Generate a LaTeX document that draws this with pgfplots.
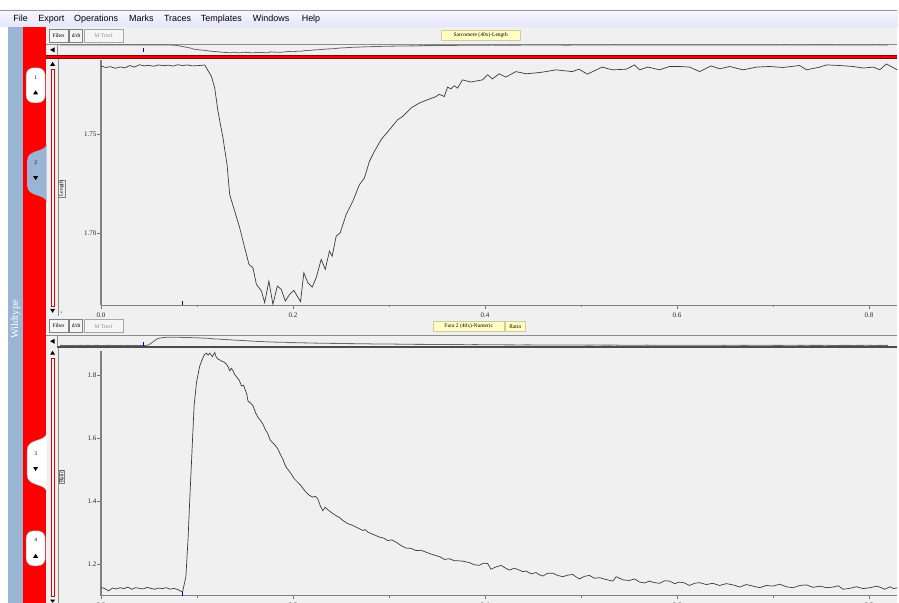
\documentclass[border=0pt]{standalone}
\usepackage{pgfplots}
\pgfplotsset{compat=1.18}
\usepackage{pgfplotstable}
\usepackage{fontspec}
\setmainfont{Liberation Serif}
\newfontfamily\uisans{Liberation Sans}

\definecolor{panel}{HTML}{F0F0F0}
\definecolor{uiblue}{HTML}{9AB4D3}
\definecolor{uired}{HTML}{FF0000}
\definecolor{trace}{HTML}{3A3A3A}
\definecolor{tag}{HTML}{FFFFC4}

\newcommand{\tickfont}{\fontsize{7}{8}\selectfont}
\newcommand{\tinyfont}{\fontsize{5.5}{6}\selectfont}
\newcommand{\menufont}{\uisans\fontsize{9}{10}\selectfont}
% small arrow glyphs of the window chrome (flipped coordinates: y grows downwards)
\newcommand{\tup}[2]{\fill[black] (#1-2.5,#2+2) -- (#1+2.5,#2+2) -- (#1,#2-2) -- cycle;}
\newcommand{\tdown}[2]{\fill[black] (#1-2.5,#2-2) -- (#1+2.5,#2-2) -- (#1,#2+2) -- cycle;}

% sarcomere length, um
\pgfplotstableread{
t L
0.000 1.7850
0.005 1.7842
0.010 1.7846
0.015 1.7838
0.020 1.7845
0.025 1.7840
0.030 1.7852
0.035 1.7844
0.040 1.7856
0.045 1.7850
0.050 1.7853
0.055 1.7848
0.060 1.7855
0.065 1.7851
0.070 1.7854
0.075 1.7849
0.080 1.7856
0.085 1.7852
0.090 1.7855
0.095 1.7850
0.100 1.7851
0.105 1.7853
0.1080 1.7855
0.1151 1.7796
0.1185 1.7737
0.1219 1.7618
0.1271 1.7483
0.1313 1.7348
0.1341 1.7195
0.1393 1.7111
0.1445 1.7026
0.1497 1.6925
0.1542 1.6840
0.1583 1.6823
0.1619 1.6739
0.1671 1.6705
0.1705 1.6646
0.1749 1.6755
0.1791 1.6637
0.1837 1.6730
0.1878 1.6713
0.1920 1.6654
0.1965 1.6688
0.2009 1.6708
0.2079 1.6651
0.2113 1.6798
0.2155 1.6747
0.2201 1.6725
0.2242 1.6773
0.2294 1.6866
0.2336 1.6815
0.2380 1.6908
0.2408 1.6882
0.2450 1.6984
0.2492 1.7001
0.2554 1.7094
0.2623 1.7161
0.2692 1.7246
0.2744 1.7280
0.2796 1.7364
0.2848 1.7415
0.2918 1.7475
0.3004 1.7525
0.3090 1.7576
0.3142 1.7593
0.3230 1.7636
0.3316 1.7661
0.3402 1.7678
0.3490 1.7694
0.3524 1.7706
0.3576 1.7694
0.3610 1.7742
0.3646 1.7733
0.3680 1.7749
0.3714 1.7737
0.3766 1.7779
0.3853 1.7768
0.3974 1.7779
0.4026 1.7805
0.4078 1.7784
0.4148 1.7810
0.4217 1.7793
0.4321 1.7821
0.4428 1.7810
0.4563 1.7816
0.4636 1.7821
0.4740 1.7830
0.4910 1.7821
0.4979 1.7833
0.5066 1.7808
0.5221 1.7844
0.5325 1.7830
0.5471 1.7833
0.5558 1.7855
0.5610 1.7830
0.5696 1.7844
0.5818 1.7830
0.5922 1.7847
0.6026 1.7847
0.6130 1.7844
0.6237 1.7821
0.6355 1.7850
0.6445 1.7835
0.6549 1.7847
0.6687 1.7830
0.6830 1.7844
0.6965 1.7847
0.7105 1.7842
0.7277 1.7852
0.7349 1.7830
0.7488 1.7844
0.7557 1.7855
0.7695 1.7852
0.7835 1.7847
0.7939 1.7839
0.8046 1.7844
0.8113 1.7830
0.8181 1.7860
0.8295 1.7830
}\lengthtab

% Fura-2 ratio
\pgfplotstableread{
t R
0.000 1.125
0.004 1.121
0.008 1.114
0.012 1.123
0.016 1.120
0.020 1.124
0.024 1.121
0.028 1.126
0.032 1.119
0.036 1.124
0.040 1.122
0.044 1.120
0.048 1.125
0.052 1.122
0.056 1.119
0.060 1.123
0.064 1.121
0.068 1.124
0.072 1.119
0.076 1.122
0.080 1.118
0.0849 1.110
0.0884 1.158
0.0907 1.279
0.0925 1.406
0.0949 1.565
0.0970 1.703
0.0995 1.777
0.1029 1.830
0.1063 1.856
0.1080 1.866
0.1099 1.870
0.1115 1.864
0.1133 1.870
0.1161 1.859
0.1185 1.872
0.1200 1.858
0.1219 1.851
0.1236 1.849
0.1254 1.845
0.1280 1.842
0.1307 1.835
0.1325 1.826
0.1341 1.814
0.1358 1.822
0.1375 1.814
0.1395 1.801
0.1417 1.793
0.1440 1.784
0.1463 1.766
0.1485 1.768
0.1507 1.750
0.1520 1.738
0.1531 1.718
0.1557 1.712
0.1583 1.703
0.1610 1.681
0.1635 1.666
0.1660 1.657
0.1687 1.644
0.1712 1.627
0.1739 1.613
0.1762 1.594
0.1785 1.586
0.1815 1.577
0.1843 1.565
0.1870 1.547
0.1895 1.533
0.1912 1.518
0.1930 1.507
0.1955 1.497
0.1982 1.486
0.2015 1.470
0.2051 1.459
0.2085 1.448
0.2121 1.433
0.2165 1.419
0.2207 1.412
0.2235 1.415
0.2259 1.406
0.2285 1.384
0.2311 1.369
0.2335 1.380
0.2363 1.372
0.2405 1.362
0.2450 1.353
0.2485 1.347
0.2519 1.338
0.2570 1.328
0.2623 1.322
0.2675 1.314
0.2727 1.306
0.2750 1.309
0.2779 1.301
0.2840 1.293
0.2900 1.285
0.2943 1.282
0.2986 1.274
0.3030 1.276
0.3074 1.269
0.3126 1.258
0.3178 1.250
0.3230 1.249
0.3282 1.242
0.3335 1.243
0.3386 1.237
0.3438 1.231
0.3490 1.226
0.3533 1.222
0.3576 1.214
0.3628 1.216
0.3680 1.210
0.3758 1.209
0.3836 1.204
0.3888 1.197
0.3940 1.195
0.3985 1.202
0.4028 1.201
0.4062 1.183
0.4115 1.190
0.4167 1.195
0.4210 1.187
0.4254 1.180
0.4306 1.186
0.4359 1.180
0.4393 1.175
0.4428 1.177
0.4480 1.168
0.4532 1.172
0.4567 1.165
0.4602 1.161
0.4654 1.170
0.4706 1.170
0.4758 1.163
0.4810 1.159
0.4862 1.164
0.4915 1.166
0.4950 1.158
0.4984 1.152
0.5036 1.160
0.5088 1.163
0.5140 1.154
0.5192 1.156
0.5262 1.150
0.5332 1.145
0.5367 1.159
0.5436 1.149
0.5505 1.147
0.5558 1.152
0.5610 1.142
0.5662 1.139
0.5714 1.145
0.5766 1.140
0.5818 1.138
0.5870 1.146
0.5923 1.145
0.5975 1.137
0.6027 1.142
0.6079 1.139
0.6131 1.131
0.6183 1.138
0.6236 1.140
0.6305 1.134
0.6374 1.138
0.6444 1.131
0.6514 1.137
0.6583 1.133
0.6653 1.126
0.6722 1.134
0.6792 1.129
0.6861 1.124
0.6930 1.131
0.7000 1.129
0.7070 1.135
0.7140 1.127
0.7209 1.124
0.7278 1.131
0.7348 1.133
0.7418 1.125
0.7488 1.129
0.7557 1.124
0.7626 1.126
0.7680 1.130
0.7731 1.119
0.7800 1.122
0.7869 1.127
0.7940 1.121
0.8008 1.124
0.8087 1.129
0.8165 1.119
0.8217 1.127
0.8260 1.121
0.8295 1.124
}\ratiotab

\pgfplotsset{
  trace axis/.style={
    scale only axis, anchor=south west, width=798pt,
    xmin=0, xmax=0.82952,
    axis x line=bottom, axis y line=left,
    axis line style={-, draw=black!50, line width=1.3pt},
    tick align=outside,
    major tick length=3.5pt, minor tick length=2pt,
    tick style={draw=black!55, line width=0.6pt},
    xtick={0,0.2,0.4,0.6,0.8}, xticklabels={0.0,0.2,0.4,0.6,0.8},
    minor xtick={0.1,0.3,0.5,0.7},
    xticklabel style={font=\tickfont, text=black!85},
    yticklabel style={font=\tickfont, text=black!85, inner xsep=1pt},
  },
  overview/.style={
    scale only axis, anchor=south west, width=842pt, hide axis, clip=false,
    xmin=-0.003, xmax=0.839,
  },
}

\begin{document}
\begin{tikzpicture}
\fill[white] (0pt,0pt) rectangle (899pt,604pt);
% menu bar
\shade[top color=white!94!blue!60, bottom color=black!8!blue!10] (0pt,577pt) rectangle (899pt,594pt);
\draw[black!40] (0pt,594pt) -- (899pt,594pt);

% window chrome, in screen pixels measured from the top left corner
\begin{scope}[x=1pt, y=-1pt, shift={(0pt,604pt)}]
  \fill[panel] (46,27) rectangle (899,604);
  \fill[uiblue] (8,27) rectangle (22.5,604);
  \fill[uired] (22.5,27) rectangle (46,604);
  \node[font=\fontsize{10.5}{11}\selectfont, text=white, rotate=90, inner sep=0pt] at (15.5,320) {Wildtype};
  % tabs
  \filldraw[fill=white, draw=black!40, rounded corners=7pt] (26,68) rectangle (45,103);
  \node[font=\tinyfont, inner sep=0pt] at (35.5,77.5) {1};
  \tup{35.5}{92.5}
  \fill[uiblue] (46.5,144) .. controls (46,153) and (27,149) .. (27,161) -- (27,186)
     .. controls (27,198) and (46,194) .. (46.5,203) -- cycle;
  \node[font=\tinyfont, inner sep=0pt] at (35.5,163.5) {2};
  \tdown{35.5}{178.5}
  \filldraw[fill=white, draw=black!30] (46.5,434) .. controls (46,443) and (27,439) .. (27,451) -- (27,476)
     .. controls (27,488) and (46,484) .. (46.5,493);
  \node[font=\tinyfont, inner sep=0pt] at (35.5,455) {3};
  \tdown{35.5}{470}
  \filldraw[fill=white, draw=black!40, rounded corners=7pt] (26,532) rectangle (45,567);
  \node[font=\tinyfont, inner sep=0pt] at (35.5,541) {4};
  \tup{35.5}{557}
  % toolbars
  \foreach \yy in {29,320}{
    \filldraw[fill=white!96!black, draw=black!50] (49,\yy) rectangle (68,\yy+13);
    \filldraw[fill=white!96!black, draw=black!50] (69.5,\yy) rectangle (82.5,\yy+13);
    \filldraw[fill=white!96!black, draw=black!35] (84,\yy) rectangle (123,\yy+13);
    \node[font=\tinyfont, inner sep=0pt] at (58.5,\yy+6.8) {Filter};
    \node[font=\tinyfont, inner sep=0pt] at (76,\yy+6.8) {d/dt};
    \node[font=\tinyfont, text=black!45, inner sep=0pt] at (103.5,\yy+6.8) {M Trnsf};
  }
  \filldraw[fill=tag, draw=tag!80!black] (442,30.5) rectangle (521,40);
  \node[font=\tinyfont, inner sep=0pt] at (481.5,35.4) {Sarcomere (40x)-Length};
  \filldraw[fill=tag, draw=tag!80!black] (434,322) rectangle (505,332);
  \node[font=\tinyfont, inner sep=0pt] at (469.5,327) {Fura 2 (40x)-Numeric};
  \filldraw[fill=tag, draw=tag!80!black] (506.5,322) rectangle (526,332);
  \node[font=\tinyfont, inner sep=0pt] at (516.2,327) {Ratio};
  % overview strips
  \draw[black!45] (46,44.5) -- (899,44.5);
  \draw[black!45] (57,44.5) -- (57,56);
  \fill[black] (50,50) -- (54.5,47.5) -- (54.5,52.5) -- cycle;
  \draw[black!45] (46,336) -- (899,336);
  \draw[black!45] (57,336) -- (57,348);
  \fill[black] (50,342) -- (54.5,339.5) -- (54.5,344.5) -- cycle;
  \draw[black!70, line width=2pt] (57,348) -- (899,348);
  % red selection line
  \draw[red!55!black, line width=3.4pt] (46,57.3) -- (899,57.3);
  \draw[uired, line width=2.2pt] (46,57.3) -- (899,57.3);
  % vertical scrollbars
  \draw[black!45] (58.5,59) -- (58.5,317);
  \draw[black!45] (58.5,349) -- (58.5,604);
  \tup{52.5}{64}
  \tdown{52.5}{311.5}
  \draw[uired!85!black, line width=0.7pt] (51.3,70) rectangle (54.3,307);
  \tup{52.5}{353.5}
  \draw[uired!85!black, line width=0.7pt] (51.3,359) rectangle (54.3,598);
  \fill[black] (50,601) -- (55,601) -- (52.5,604) -- cycle;
  \node[font=\fontsize{3.5}{4}\selectfont, inner sep=0pt] at (61.5,313) {s};
  % channel labels
  \node[draw=black!50, rotate=90, inner sep=0.6pt, font=\tinyfont] at (61.6,189) {Length};
  \node[draw=black!50, rotate=90, inner sep=0.6pt, font=\tinyfont] at (61.6,478) {Ratio};
  % menu
  \foreach \xx/\word in {13/File,38/Export,74/Operations,129/Marks,164/Traces,201/Templates,253/Windows,302/Help}{
    \node[font=\menufont, anchor=base west, inner sep=0pt] at (\xx,21.5) {\word};
  }
\end{scope}

% top panel: sarcomere length
\begin{scope}[shift={(101pt,298pt)}]
\begin{axis}[trace axis, height=246pt,
  ymin=1.6632, ymax=1.78807,
  ytick={1.70,1.75}, yticklabels={1.70,1.75}]
\addplot[trace, line width=0.7pt] table[x=t, y=L] {\lengthtab};
\addplot[blue!75!black, line width=0.8pt] coordinates {(0.085,1.6632) (0.085,1.6656)};
\end{axis}
\end{scope}

% bottom panel: Fura-2 ratio (its tick labels fall below the window edge)
\begin{scope}[shift={(101pt,7pt)}]
\begin{axis}[trace axis, height=245pt,
  ymin=1.0984, ymax=1.87619,
  ytick={1.2,1.4,1.6,1.8}, yticklabels={1.2,1.4,1.6,1.8},
  xticklabel style={overlay}]
\addplot[trace, line width=0.7pt] table[x=t, y=R] {\ratiotab};
\addplot[blue!75!black, line width=0.8pt] coordinates {(0.085,1.0984) (0.085,1.111)};
\end{axis}
\end{scope}

% overview strips
\begin{scope}[shift={(57pt,548pt)}]
\begin{axis}[overview, height=11.5pt, ymin=1.619, ymax=1.7926]
\addplot[black!60, line width=0.8pt] table[x=t, y=L] {\lengthtab};
\addplot[blue!75!black, line width=0.7pt] coordinates {(0.083,1.684) (0.083,1.744)};
\end{axis}
\end{scope}
\begin{scope}[shift={(57pt,256pt)}]
\begin{axis}[overview, height=11pt, ymin=0.953, ymax=1.953]
\addplot[black!60, line width=0.8pt] table[x=t, y=R] {\ratiotab};
\addplot[blue!75!black, line width=0.7pt] coordinates {(0.083,1.071) (0.083,1.435)};
\end{axis}
\end{scope}
\end{tikzpicture}
\end{document}
